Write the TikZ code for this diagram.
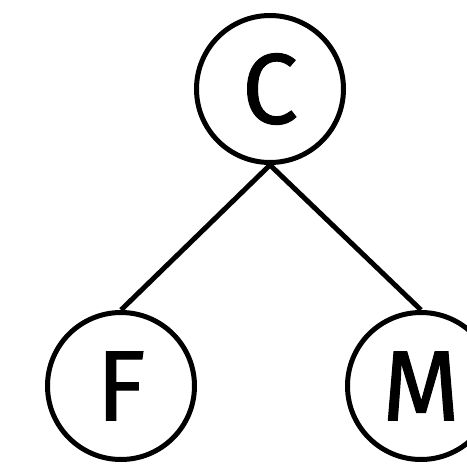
\documentclass[tikz,border=0pt]{standalone}
\usepackage{fontspec}
\newfontfamily\markerfont{Fira Sans}[FakeBold=1]
\usepackage{tikz}

\tikzset{
  letter/.style={draw, circle, line width=5pt, minimum size=147pt, inner sep=0pt,
    font=\markerfont\fontsize{100}{100}\selectfont}
}

\begin{document}
\begin{tikzpicture}[x=1pt, y=-1pt]
		\useasboundingbox (0,0) rectangle (467,464);

		\node[letter] (c) at (270,89) {C};
		\node[letter] (f) at (121,386) {F};
		\node[letter] (m) at (421,386) {M};

		\draw[line width=5pt] (c.south) -- (f.north);
		\draw[line width=5pt] (c.south) -- (m.north);
\end{tikzpicture}
\end{document}
